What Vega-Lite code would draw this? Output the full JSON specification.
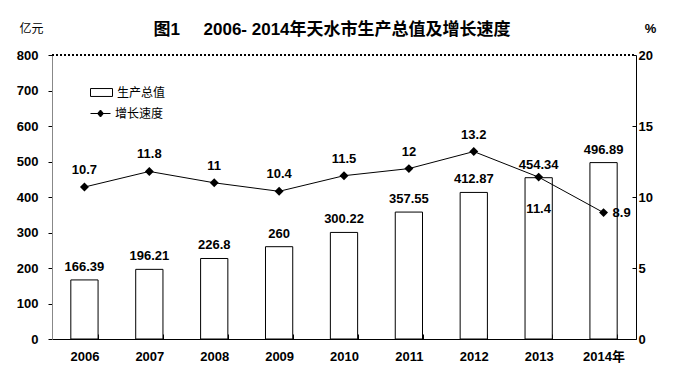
{
  "$schema": "https://vega.github.io/schema/vega-lite/v6.json",
  "width": 584,
  "height": 284,
  "autosize": "none",
  "padding": {"left": 52, "top": 55, "right": 63, "bottom": 45},
  "background": "white",
  "config": {
    "view": {"stroke": null},
    "font": "Liberation Sans, Noto Sans CJK SC, sans-serif",
    "axis": {"labelFont": "Liberation Sans", "labelFontWeight": "bold", "labelFontSize": 13, "labelColor": "black", "domainColor": "black", "tickColor": "black", "grid": false, "labelOverlap": false, "ticks": true}
  },
  "title": {
    "text": "图1\u00a0\u00a0\u00a0\u00a0\u00a02006- 2014年天水市生产总值及增长速度",
    "font": "Liberation Sans, Noto Sans CJK SC",
    "fontSize": 17,
    "fontWeight": "bold",
    "color": "black",
    "anchor": "middle",
    "dx": -12,
    "offset": -17
  },
  "data": {
    "values": [
      {"year": "2006", "gdp": 166.39, "growth": 10.7},
      {"year": "2007", "gdp": 196.21, "growth": 11.8},
      {"year": "2008", "gdp": 226.8, "growth": 11},
      {"year": "2009", "gdp": 260, "growth": 10.4},
      {"year": "2010", "gdp": 300.22, "growth": 11.5},
      {"year": "2011", "gdp": 357.55, "growth": 12},
      {"year": "2012", "gdp": 412.87, "growth": 13.2},
      {"year": "2013", "gdp": 454.34, "growth": 11.4},
      {"year": "2014年", "gdp": 496.89, "growth": 8.9}
    ]
  },
  "encoding": {
    "x": {
      "field": "year",
      "type": "ordinal",
      "sort": null,
      "scale": {"paddingInner": 0.58, "paddingOuter": 0.29},
      "axis": {"title": null, "labelAngle": 0, "tickBand": "extent", "tickSize": -5, "labelPadding": 16, "labelFont": "Liberation Sans, Noto Sans CJK SC"}
    }
  },
  "layer": [
    {
      "encoding": {
        "y": {
          "field": "gdp",
          "type": "quantitative",
          "scale": {"domain": [0, 800]},
          "axis": {"title": "亿元", "titleAngle": 0, "titleX": -21, "titleY": -27, "titleAlign": "center", "titleBaseline": "middle", "titleFont": "Noto Sans CJK SC", "titleFontWeight": "normal", "titleFontSize": 12, "titleColor": "black", "values": [0, 100, 200, 300, 400, 500, 600, 700, 800], "labelOverlap": false, "tickSize": 4, "labelPadding": 10, "domainColor": "#888888"}
        }
      },
      "layer": [
        {
          "mark": {"type": "bar", "stroke": "black", "strokeWidth": 1},
          "encoding": {
            "fill": {
              "datum": "生产总值",
              "type": "nominal",
              "scale": {"range": ["white"]},
              "legend": {"title": null, "orient": "none", "legendX": 38, "legendY": 26, "padding": 0, "symbolType": "M-1,-0.36H1V0.36H-1Z", "symbolSize": 484, "symbolStrokeColor": "black", "symbolStrokeWidth": 1, "labelFont": "Noto Sans CJK SC", "labelFontSize": 12, "labelColor": "black", "labelOffset": 4}
            }
          }
        },
        {
          "mark": {"type": "text", "baseline": "bottom", "dy": -6, "fontSize": 13, "fontWeight": "bold", "font": "Liberation Sans", "color": "black"},
          "encoding": {
            "text": {"field": "gdp", "type": "nominal"}
          }
        }
      ]
    },
    {
      "encoding": {
        "y": {
          "field": "growth",
          "type": "quantitative",
          "scale": {"domain": [0, 20]},
          "axis": {"orient": "right", "title": "%", "titleAngle": 0, "titleX": 14, "titleY": -27, "titleAlign": "center", "titleBaseline": "middle", "titleFont": "Liberation Sans", "titleFontWeight": "bold", "titleFontSize": 13, "titleColor": "black", "values": [0, 5, 10, 15, 20], "tickSize": -4, "labelPadding": 6}
        }
      },
      "layer": [
        {
          "mark": {"type": "line", "strokeWidth": 1, "color": "black"},
          "encoding": {
            "stroke": {
              "datum": "增长速度",
              "type": "nominal",
              "scale": {"range": ["black"]},
              "legend": {"title": null, "orient": "none", "legendX": 38, "legendY": 48, "padding": 0, "symbolType": "M-1,0H1M0,-0.35L0.3,0L0,0.35L-0.3,0Z", "symbolSize": 400, "symbolFillColor": "black", "symbolStrokeColor": "black", "symbolStrokeWidth": 1, "labelFont": "Noto Sans CJK SC", "labelFontSize": 12, "labelColor": "black", "labelOffset": 4}
            }
          }
        },
        {
          "mark": {"type": "rule", "strokeDash": [2, 2], "color": "black", "strokeWidth": 1},
          "encoding": {"y": {"datum": 20}, "x": {"value": 0}, "x2": {"value": 584}}
        },
        {
          "mark": {"type": "point", "shape": "diamond", "filled": true, "color": "black", "size": 80, "opacity": 1},
          "encoding": {}
        },
        {
          "transform": [{"filter": "datum.year != '2013' && datum.year != '2014年'"}],
          "mark": {"type": "text", "baseline": "bottom", "dy": -10, "fontSize": 13, "fontWeight": "bold", "font": "Liberation Sans", "color": "black"},
          "encoding": {"text": {"field": "growth", "type": "nominal"}}
        },
        {
          "transform": [{"filter": "datum.year == '2013'"}],
          "mark": {"type": "text", "baseline": "middle", "dy": 32, "fontSize": 13, "fontWeight": "bold", "font": "Liberation Sans", "color": "black"},
          "encoding": {"text": {"field": "growth", "type": "nominal"}}
        },
        {
          "transform": [{"filter": "datum.year == '2014年'"}],
          "mark": {"type": "text", "baseline": "middle", "align": "left", "dx": 9, "fontSize": 13, "fontWeight": "bold", "font": "Liberation Sans", "color": "black"},
          "encoding": {"text": {"field": "growth", "type": "nominal"}}
        }
      ]
    }
  ],
  "resolve": {"scale": {"y": "independent"}}
}
